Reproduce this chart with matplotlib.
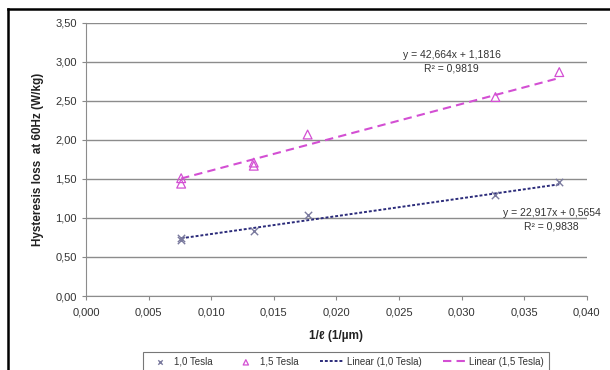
import numpy as np
import matplotlib
matplotlib.use("Agg")
import matplotlib.pyplot as plt
from matplotlib.ticker import FuncFormatter
from matplotlib.lines import Line2D

plt.rcParams['font.family'] = ['Liberation Sans', 'DejaVu Sans']

# data
x_10 = [0.0076, 0.0076, 0.0134, 0.0177, 0.0327, 0.0378]
y_10 = [0.72, 0.74, 0.83, 1.04, 1.30, 1.46]
x_15 = [0.0076, 0.0076, 0.0134, 0.0134, 0.0177, 0.0327, 0.0378]
y_15 = [1.44, 1.51, 1.67, 1.71, 2.07, 2.55, 2.87]
fit_10 = (22.917, 0.5654, 0.9838)
fit_15 = (42.664, 1.1816, 0.9819)

c10_mark = '#7a7a9e'
c10_line = '#2b2b7a'
c15 = '#d34fd3'

fig = plt.figure(figsize=(6.1, 3.7), dpi=100)
ax = fig.add_axes([0.141, 0.2, 0.821, 0.738])

ax.scatter(x_10, y_10, marker='x', s=28, color=c10_mark, linewidths=1.0, zorder=3, label='1,0 Tesla')
ax.scatter(x_15, y_15, marker='^', s=40, facecolors='none', edgecolors=c15, linewidths=0.9, zorder=3, label='1,5 Tesla')

xs = np.array([min(x_10), max(x_10)])
ax.plot(xs, fit_10[0]*xs + fit_10[1], color=c10_line, ls=(0, (1.5, 1)), lw=1.4, label='Linear (1,0 Tesla)')
xs = np.array([min(x_15), max(x_15)])
ax.plot(xs, fit_15[0]*xs + fit_15[1], color=c15, ls=(0, (4, 2.5)), lw=1.5, label='Linear (1,5 Tesla)')

ax.text(0.0292, 3.09, 'y = 42,664x + 1,1816', fontsize=7.5, color='#333333', ha='center', va='center')
ax.text(0.0292, 2.92, 'R² = 0,9819', fontsize=7.5, color='#333333', ha='center', va='center')
ax.text(0.0372, 1.06, 'y = 22,917x + 0,5654', fontsize=7.5, color='#333333', ha='center', va='center')
ax.text(0.0372, 0.885, 'R² = 0,9838', fontsize=7.5, color='#333333', ha='center', va='center')

ax.set_xlim(0, 0.040)
ax.set_ylim(0, 3.5)
ax.set_xticks(np.arange(0, 0.0401, 0.005))
ax.set_yticks(np.arange(0, 3.51, 0.5))
ax.xaxis.set_major_formatter(FuncFormatter(lambda v, p: f"{v:.3f}".replace('.', ',')))
ax.yaxis.set_major_formatter(FuncFormatter(lambda v, p: f"{v:.2f}".replace('.', ',')))
ax.tick_params(labelsize=8, colors='#333333', length=3, color='#888888')
ax.tick_params(axis='x', pad=5)
ax.grid(axis='y', color='#8c8c8c', lw=1.0)
ax.set_axisbelow(True)
for s in ['top', 'right']:
    ax.spines[s].set_visible(False)
for s in ['left', 'bottom']:
    ax.spines[s].set_color('#8c8c8c')

ax.set_xlabel('1/ℓ (1/µm)', fontsize=8.5, fontweight='bold', color='#222222', labelpad=9)
ax.set_ylabel('Hysteresis loss  at 60Hz (W/kg)', fontsize=8.5, fontweight='bold', color='#222222', labelpad=8)

leg = fig.legend(loc='upper center', bbox_to_anchor=(0.567, 0.0486), ncol=4, fontsize=7,
                 frameon=True, fancybox=False, borderpad=0.5, borderaxespad=0, handlelength=2.4,
                 handletextpad=0.3, columnspacing=2.2, markerscale=0.6, labelcolor='#333333')
leg.get_frame().set_edgecolor('#555555')
leg.get_frame().set_linewidth(0.8)

# black frame lines at top and left edge
fig.add_artist(Line2D([0.0126, 1.0], [0.9757, 0.9757], color='black', lw=1.8, transform=fig.transFigure))
fig.add_artist(Line2D([0.0126, 0.0126], [0.0, 0.9757], color='black', lw=1.8, transform=fig.transFigure))

fig.savefig('out.png', dpi=100)
